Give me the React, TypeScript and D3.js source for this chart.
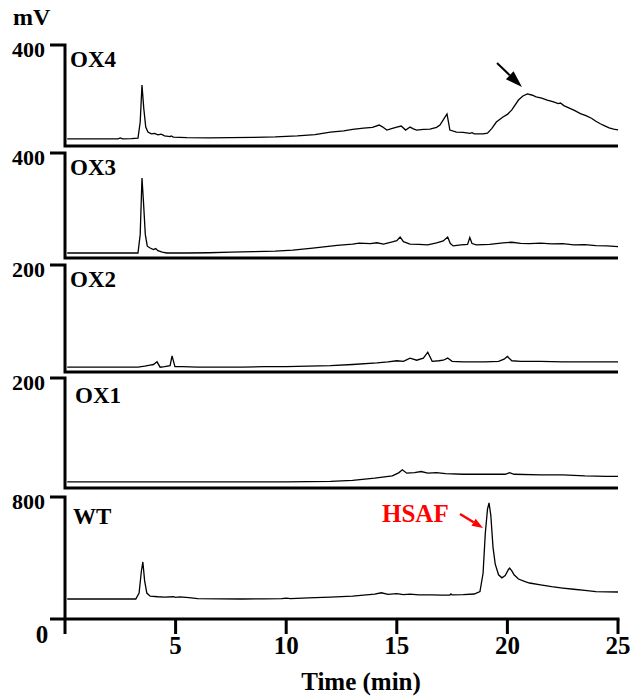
import * as d3 from 'd3'

// chromatogram traces, [time (min), signal (mV)]
const ox4: [number, number][] = [
  [0.1, 28], [2.4, 28], [2.5, 32], [2.6, 28], [3.0, 29], [3.3, 31], [3.4, 95], [3.48, 241],
  [3.56, 150], [3.65, 75], [3.75, 55], [3.9, 48], [4.05, 50], [4.2, 44], [4.35, 47], [4.5, 40],
  [4.75, 37], [4.8, 40], [4.9, 35], [5.5, 33], [6.5, 32], [7.5, 33], [8.5, 34], [9.5, 36],
  [10.5, 40], [11.3, 45], [12, 55], [12.6, 60], [13, 66], [13.5, 71], [13.9, 74], [14.2, 83],
  [14.35, 76], [14.55, 63], [14.8, 70], [15.0, 75], [15.2, 79], [15.4, 63], [15.6, 75], [15.75, 68],
  [15.9, 63], [16.2, 66], [16.5, 67], [16.8, 74], [16.95, 83], [17.15, 110], [17.27, 127], [17.4, 63],
  [17.7, 55], [18.0, 54], [18.3, 50], [18.4, 53], [18.5, 48], [18.9, 48], [19.1, 51], [19.3, 70],
  [19.5, 95], [19.8, 115], [20.0, 125], [20.2, 143], [20.5, 182], [20.7, 198], [20.9, 206], [21.1, 202],
  [21.3, 195], [21.55, 190], [21.8, 182], [22.05, 176], [22.3, 168], [22.4, 170], [22.55, 160], [22.8, 150],
  [23.05, 140], [23.3, 128], [23.55, 120], [23.8, 110], [24.0, 98], [24.2, 88], [24.4, 80], [24.6, 72],
  [24.8, 67], [25, 64],
]

const ox3: [number, number][] = [
  [0.1, 19], [3.3, 19], [3.4, 90], [3.48, 305], [3.55, 210], [3.63, 90], [3.72, 45], [3.85, 38],
  [4.0, 32], [4.1, 36], [4.2, 28], [4.4, 22], [4.6, 19], [5.5, 19], [6.5, 20], [7.5, 22],
  [8.5, 24], [9.5, 26], [10.3, 30], [11.2, 38], [12.3, 48], [13, 53], [13.3, 57], [13.8, 55],
  [14.1, 58], [14.4, 53], [14.8, 61], [15.0, 66], [15.15, 80], [15.3, 62], [15.6, 53], [16, 52],
  [16.4, 50], [16.8, 58], [17.1, 65], [17.3, 80], [17.42, 55], [17.55, 46], [17.9, 50], [18.2, 52],
  [18.3, 78], [18.4, 55], [18.6, 50], [19.2, 52], [19.8, 58], [20.2, 60], [20.6, 56], [21, 55],
  [21.5, 57], [22, 54], [22.5, 55], [23, 50], [23.5, 51], [24, 47], [24.5, 46], [25, 43],
]

const ox2: [number, number][] = [
  [0.1, 9], [3.3, 9], [3.6, 11], [3.85, 13], [4.0, 14], [4.16, 19], [4.3, 9], [4.5, 10],
  [4.75, 12], [4.84, 30], [4.97, 10], [5.3, 10], [6, 9], [7, 9], [8, 9], [9, 10],
  [10, 10], [11, 11], [12, 12], [13, 14], [14.1, 17], [14.6, 19], [15.0, 21], [15.3, 20],
  [15.6, 26], [15.9, 22], [16.2, 26], [16.4, 37], [16.6, 20], [16.9, 21], [17.1, 22], [17.3, 26],
  [17.5, 20], [18, 19], [18.5, 19], [19, 19], [19.6, 20], [19.85, 24], [20.0, 29], [20.2, 21],
  [20.6, 20], [21.5, 20], [22.5, 19], [23.5, 19], [25, 19],
]

const ox1: [number, number][] = [
  [0.1, 11], [5, 11], [10, 11], [12, 12], [13, 14], [14, 18], [14.8, 22], [15.1, 28],
  [15.25, 33], [15.45, 27], [15.8, 28], [16.1, 30], [16.4, 27], [16.8, 28], [17.2, 26], [18, 25],
  [19, 25], [19.9, 25], [20.1, 28], [20.3, 25], [21.5, 24], [22.5, 24], [23.5, 22], [24.5, 21],
  [25, 21],
]

const wt: [number, number][] = [
  [0.1, 131], [3.2, 131], [3.35, 170], [3.45, 310], [3.52, 374], [3.6, 250], [3.7, 170], [3.85, 150],
  [4.2, 146], [4.5, 144], [4.9, 146], [5.0, 142], [5.2, 145], [5.6, 140], [6, 134], [7, 132],
  [8, 131], [9, 132], [9.8, 133], [10, 137], [10.2, 134], [11, 139], [12, 144], [13, 150],
  [14, 163], [14.3, 172], [14.6, 162], [15, 166], [15.3, 160], [15.6, 163], [16, 158], [16.6, 158],
  [17, 157], [17.4, 157], [17.45, 164], [17.5, 158], [18, 160], [18.5, 164], [18.76, 180], [18.9, 300],
  [19.0, 560], [19.1, 720], [19.17, 761], [19.25, 680], [19.35, 470], [19.45, 360], [19.6, 290], [19.75, 270],
  [19.9, 285], [20.05, 325], [20.1, 334], [20.2, 315], [20.3, 290], [20.5, 262], [20.8, 245], [21, 236],
  [21.5, 224], [22, 212], [22.5, 203], [23, 195], [23.5, 188], [24, 180], [24.5, 178], [25, 177],
]

const panelNames = ['OX4', 'OX3', 'OX2', 'OX1', 'WT']
const panelMax = [400, 400, 200, 200, 800]
const series = [ox4, ox3, ox2, ox1, wt]
const xTicks = [0, 5, 10, 15, 20, 25]

// layout
const W = 632
const H = 698
const axisX = 65
const rightX = 618
const panelTop = [45, 153, 265, 378, 497]
const panelBottom = [146, 258, 372, 488, 619]
const nameX = [70, 70, 70, 75, 73]
const nameDy = [22, 22, 22, 25, 27]
const font = "'Liberation Serif', 'Times New Roman', serif"

function arrow(x1: number, y1: number, x2: number, y2: number, len: number, w: number) {
  const dx = x2 - x1
  const dy = y2 - y1
  const d = Math.hypot(dx, dy)
  const ux = dx / d
  const uy = dy / d
  const bx = x2 - ux * len
  const by = y2 - uy * len
  const nx = -uy * w / 2
  const ny = ux * w / 2
  return {
    shaft: `M${x1},${y1}L${bx},${by}`,
    head: `M${x2},${y2}L${bx + nx},${by + ny}L${bx - nx},${by - ny}Z`,
  }
}

export default function App() {
  const x = d3.scaleLinear().domain([0, 25]).range([axisX, rightX])
  const blackArrow = arrow(497, 63, 522, 87, 17, 11)
  const redArrow = arrow(460, 514, 483, 528, 11, 8)

  return (
    <svg width={W} height={H} style={{ position: 'absolute', left: 0, top: 0, background: '#fff' }}
      fontFamily={font} fontWeight="bold">
      <text x={13} y={25} fontSize={24}>mV</text>

      {panelNames.map((name, i) => {
        const y = d3.scaleLinear().domain([0, panelMax[i]]).range([panelBottom[i], panelTop[i]])
        const line = d3.line<[number, number]>().x(d => x(d[0])).y(d => y(d[1]))
        const last = i === panelNames.length - 1
        return (
          <g key={name}>
            <path d={line(series[i]) ?? ''} fill="none" stroke="#000" strokeWidth={1.3} />
            <path
              d={`M50,${y(panelMax[i])}H${axisX}V${y(0)}` + (last ? '' : `H${rightX}`)}
              fill="none" stroke="#000" strokeWidth={3} strokeLinejoin="miter" />
            <text x={45} y={y(panelMax[i]) + 12} fontSize={22} textAnchor="end">{panelMax[i]}</text>
            <text x={nameX[i]} y={panelTop[i] + nameDy[i]} fontSize={23}>{name}</text>
          </g>
        )
      })}

      {/* x axis */}
      <line x1={50} x2={rightX + 1.5} y1={619} y2={619} stroke="#000" strokeWidth={3} />
      {xTicks.map(t => (
        <g key={t}>
          <line x1={x(t)} x2={x(t)} y1={619} y2={634} stroke="#000" strokeWidth={3} />
          {t > 0 && (
            <text x={x(t)} y={654} fontSize={25} textAnchor="middle">{t}</text>
          )}
        </g>
      ))}
      <text x={42} y={643} fontSize={25} textAnchor="middle">0</text>
      <text x={361} y={690} fontSize={25} textAnchor="middle">Time (min)</text>

      {/* annotations */}
      <path d={blackArrow.shaft} stroke="#000" strokeWidth={2} />
      <path d={blackArrow.head} fill="#000" />
      <text x={382} y={522} fontSize={25} fill="#ff0000">HSAF</text>
      <path d={redArrow.shaft} stroke="#ff0000" strokeWidth={2.5} />
      <path d={redArrow.head} fill="#ff0000" />
    </svg>
  )
}
